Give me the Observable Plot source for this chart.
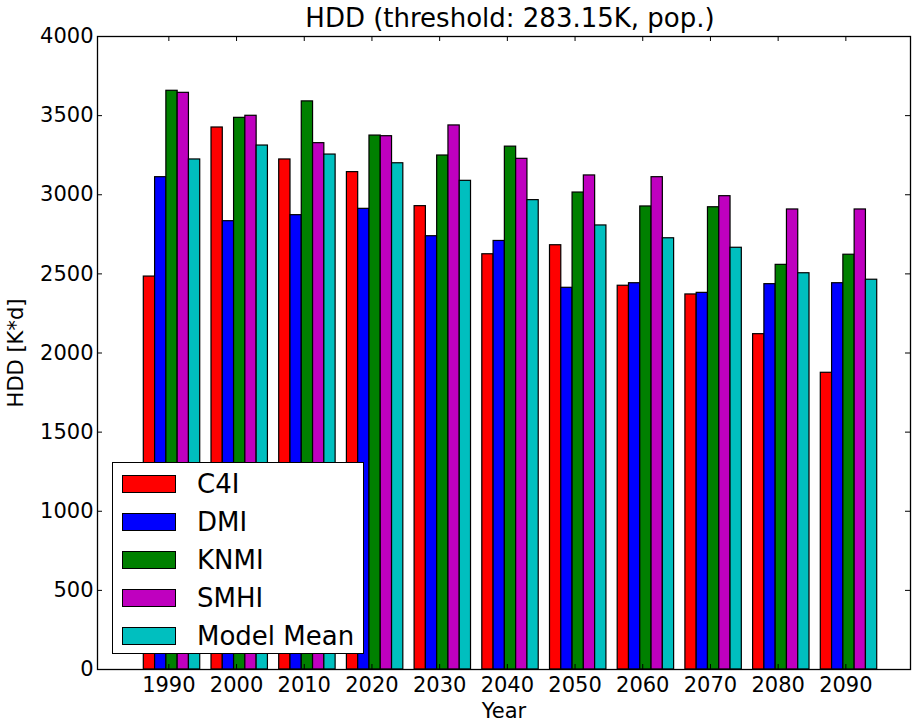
<!DOCTYPE html>
<html><head><meta charset="utf-8">
<script src="https://cdn.jsdelivr.net/npm/d3@7"></script>
<script src="https://cdn.jsdelivr.net/npm/@observablehq/plot@0.6"></script>
<style>
body{margin:0;background:#fff;font-family:"DejaVu Sans",sans-serif;}
#wrap{position:relative;width:912px;height:722px;overflow:hidden;}
#legend{position:absolute;left:112px;top:462px;width:252px;height:192px;border:1.3px solid #000;background:#fff;box-sizing:border-box;}
.row{position:absolute;left:0;height:30px;width:100%;}
.sw{position:absolute;left:9px;top:6px;width:54px;height:18px;border:1.3px solid #000;box-sizing:border-box;}
.lb{position:absolute;left:84px;top:0;font-size:26px;line-height:30px;color:#000;white-space:nowrap;}
</style></head><body><div id="wrap"></div>
<script>
const title = "HDD (threshold: 283.15K, pop.)";
const xLabel = "Year";
const yLabel = "HDD [K*d]";
const years = [1990, 2000, 2010, 2020, 2030, 2040, 2050, 2060, 2070, 2080, 2090];
const models = ["C4I", "DMI", "KNMI", "SMHI", "Model Mean"];
const colors = ["#ff0000", "#0000ff", "#008000", "#bf00bf", "#00bfbf"];
const c4i  = [2483, 3425, 3223, 3143, 2928, 2624, 2681, 2425, 2370, 2119, 1875];
const dmi  = [3111, 2833, 2871, 2911, 2738, 2708, 2412, 2441, 2380, 2435, 2441];
const knmi = [3657, 3486, 3590, 3374, 3248, 3304, 3014, 2926, 2921, 2557, 2621];
const smhi = [3644, 3499, 3326, 3370, 3438, 3227, 3122, 3111, 2991, 2907, 2907];
const modelMean = [3223, 3311, 3254, 3199, 3088, 2966, 2806, 2725, 2665, 2504, 2463];
const yTicks = [0, 500, 1000, 1500, 2000, 2500, 3000, 3500, 4000];

const series = [c4i, dmi, knmi, smhi, modelMean];
const bw = 1 / 6;          // bar width in group units
const tickOff = 0.37;      // tick position within a group
const rows = years.flatMap((yr, i) => series.map((vals, k) => ({i, k, model: models[k], value: vals[i]})));
const xTicks = years.map((y, i) => i + tickOff);
const fmtYear = d => String(years[Math.round(d - tickOff)]);

const W = 912, H = 722, mT = 36, mB = 53, mL = 97, mR = 2;
const fw = W - mL - mR, fh = H - mT - mB, tl = 5;

const chart = Plot.plot({
  width: W, height: H,
  marginTop: mT, marginBottom: mB, marginLeft: mL, marginRight: mR,
  style: {fontFamily: "DejaVu Sans", fontSize: "21px", color: "black", background: "white"},
  x: {type: "linear", domain: [-0.684, 11.325]},
  y: {domain: [0, 4000]},
  color: {domain: models, range: colors},
  marks: [
    Plot.rect(rows, {x1: d => d.i + d.k * bw, x2: d => d.i + (d.k + 1) * bw, y1: 0, y2: "value",
      fill: "model", stroke: "black", strokeWidth: 1.2}),
    Plot.frame({stroke: "black", strokeWidth: 1.3}),
    Plot.tickX(xTicks, {x: d => d, insetTop: fh - tl, stroke: "black"}),
    Plot.tickX(xTicks, {x: d => d, insetBottom: fh - tl, stroke: "black"}),
    Plot.tickY(yTicks, {y: d => d, insetRight: fw - tl, stroke: "black"}),
    Plot.tickY(yTicks, {y: d => d, insetLeft: fw - tl, stroke: "black"}),
    Plot.axisX({anchor: "bottom", ticks: xTicks, tickSize: 0, tickPadding: 8, tickFormat: fmtYear,
      label: xLabel, labelAnchor: "center", labelOffset: 48, labelArrow: "none"}),
    Plot.axisY({anchor: "left", ticks: yTicks, tickSize: 0, tickPadding: 4, tickFormat: d => String(d),
      label: yLabel, labelAnchor: "center", labelOffset: 89, labelArrow: "none"}),
    Plot.text([title], {text: d => d, frameAnchor: "top", dy: -17.5, dx: 6, fontSize: 26, lineAnchor: "middle", fill: "black"})
  ]
});
const wrap = document.getElementById("wrap");
wrap.appendChild(chart);

const legend = document.createElement("div");
legend.id = "legend";
models.forEach((m, k) => {
  const row = document.createElement("div");
  row.className = "row";
  row.style.top = (5.6 + 38 * k) + "px";
  const sw = document.createElement("div");
  sw.className = "sw";
  sw.style.background = colors[k];
  const lb = document.createElement("div");
  lb.className = "lb";
  lb.textContent = m;
  row.appendChild(sw); row.appendChild(lb);
  legend.appendChild(row);
});
wrap.appendChild(legend);
</script></body></html>
